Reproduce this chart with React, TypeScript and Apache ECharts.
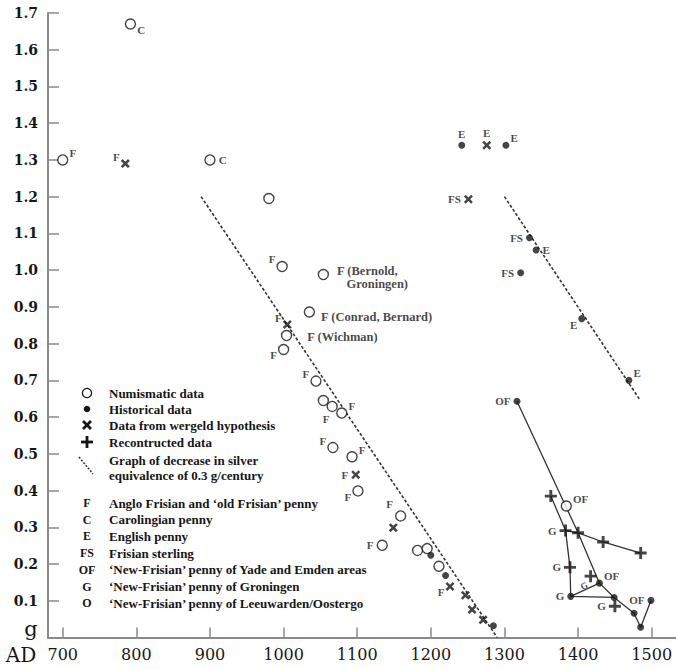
import React, { useEffect, useRef } from "react";
import * as echarts from "echarts";

// ---------- data ----------
const yearTicks = [700, 800, 900, 1000, 1100, 1200, 1300, 1400, 1500];

// [year AD, grams of silver, coin code label]
const numismatic: [number, number, string][] = [
  [700, 1.3, "F"],
  [792, 1.67, "C"],
  [900, 1.3, "C"],
  [980, 1.195, ""],
  [998, 1.01, "F"],
  [1054, 0.988, "F (Bernold,\n   Groningen)"],
  [1035, 0.886, "F (Conrad, Bernard)"],
  [1004, 0.822, "F (Wichman)"],
  [1000, 0.784, "F"],
  [1044, 0.698, "F"],
  [1054, 0.645, ""],
  [1066, 0.629, "F"],
  [1079, 0.611, "F"],
  [1067, 0.517, "F"],
  [1093, 0.492, "F"],
  [1101, 0.399, "F"],
  [1159, 0.331, "F"],
  [1134, 0.251, "F"],
  [1182, 0.237, ""],
  [1195, 0.242, ""],
  [1211, 0.194, ""],
  [1384, 0.358, "OF"],
];

const historical: [number, number, string][] = [
  [1242, 1.34, "E"],
  [1302, 1.34, "E"],
  [1334, 1.088, "FS"],
  [1343, 1.055, "E"],
  [1322, 0.993, "FS"],
  [1405, 0.868, "E"],
  [1469, 0.7, "E"],
  [1317, 0.643, "OF"],
  [1200, 0.224, ""],
  [1220, 0.169, ""],
  [1285, 0.032, ""],
  [1429, 0.148, "OF"],
  [1390, 0.112, "G"],
  [1449, 0.109, ""],
  [1499, 0.101, "OF"],
  [1476, 0.066, ""],
  [1485, 0.028, ""],
];

const wergeld: [number, number, string][] = [
  [785, 1.29, "F"],
  [1276, 1.34, "E"],
  [1251, 1.193, "FS"],
  [1005, 0.852, "F"],
  [1098, 0.443, "F"],
  [1149, 0.299, ""],
  [1226, 0.139, "F"],
  [1247, 0.115, ""],
  [1256, 0.076, ""],
  [1271, 0.048, ""],
];

const reconstructed: [number, number, string][] = [
  [1363, 0.385, ""],
  [1383, 0.291, "G"],
  [1400, 0.285, ""],
  [1434, 0.26, ""],
  [1485, 0.23, ""],
  [1389, 0.191, "G"],
  [1417, 0.167, "G"],
  [1450, 0.085, "G"],
];

// trend lines: decrease of 0.3 g per century
const trendEarly = [[888, 1.2], [1290, 0]];
const trendLate = [[1300, 1.2], [1483, 0.65]];

// connected series
const ofPath = [[1317, 0.643], [1400, 0.285], [1429, 0.148], [1449, 0.109], [1476, 0.066], [1485, 0.028], [1499, 0.101]];
const gPath = [[1363, 0.385], [1383, 0.291], [1389, 0.191], [1390, 0.112], [1449, 0.109]];
const gLink = [[1390, 0.112], [1429, 0.148]];
const reconPath = [[1383, 0.291], [1400, 0.285], [1434, 0.26], [1485, 0.23]];

// legend texts
const legendSeriesNames = ["Numismatic data", "Historical data", "Data from wergeld hypothesis", "Recontructed data"];
const trendNote = ["Graph of decrease in silver", "equivalence of 0.3 g/century"];
const coinCodes = ["F", "C", "E", "FS", "OF", "G", "O"];
const coinNames = [
  "Anglo Frisian and \u2018old Frisian\u2019 penny",
  "Carolingian penny",
  "English penny",
  "Frisian sterling",
  "\u2018New-Frisian\u2019 penny of Yade and Emden areas",
  "\u2018New-Frisian\u2019 penny of Groningen",
  "\u2018New-Frisian\u2019 penny of Leeuwarden/Oostergo",
];

// ---------- label placement (presentation only) ----------
const numismaticPlace = ["tr", "br", "r", "", "tl", "bern", "conrad", "wich", "bl", "tl", "", "b", "tr", "tl", "tr", "bl", "tl2", "l", "", "", "", "tr"];
const historicalPlace = ["t", "tr", "l", "r", "l", "bl", "tr", "l", "", "", "", "tr", "l", "", "l", "", ""];
const wergeldPlace = ["tl", "t", "l", "tl", "l", "", "bl", "", "", ""];
const reconstructedPlace = ["", "l", "", "", "", "l", "gsmall", "l"];

const INK = "#161616";
const AXIS = "#8a8a8a";
const SERIF = '"Liberation Serif", "DejaVu Serif", serif';
const AXISFONT = '"DejaVu Serif", serif';

function placement(code: string): any {
  switch (code) {
    case "r": return { position: "right", distance: 3 };
    case "l": return { position: "left", distance: 3 };
    case "t": return { position: "top", distance: 2 };
    case "b": return { position: "bottom", distance: 1, offset: [-6, 0] };
    case "tr": return { position: "right", distance: 1, offset: [0, -7] };
    case "tl": return { position: "left", distance: 1, offset: [0, -7] };
    case "tl2": return { position: "left", distance: 2, offset: [0, -12] };
    case "br": return { position: "right", distance: 1, offset: [0, 6] };
    case "bl": return { position: "left", distance: 1, offset: [0, 6] };
    case "bern": return { position: "right", distance: 8, offset: [0, 3], fontSize: 12.5, lineHeight: 13 };
    case "conrad": return { position: "right", distance: 6, offset: [0, 5], fontSize: 12.5 };
    case "wich": return { position: "right", distance: 15, offset: [0, 1], fontSize: 12.5 };
    case "gsmall": return { position: "left", distance: 1, offset: [0, 9], fontSize: 9, rotate: 25 };
    default: return {};
  }
}

function toData(points: [number, number, string][], places: string[]) {
  return points.map(([x, y, t], i) => ({
    value: [x, y],
    label: t
      ? {
          show: true,
          formatter: t,
          fontFamily: SERIF,
          fontWeight: "bold",
          fontSize: 11,
          color: INK,
          ...placement(places[i]),
        }
      : { show: false },
  }));
}

const xSymbol = "path://M2,0 L5,3 L8,0 L10,2 L7,5 L10,8 L8,10 L5,7 L2,10 L0,8 L3,5 L0,2 Z";
const plusSymbol = "path://M3.8,0 H6.2 V3.8 H10 V6.2 H6.2 V10 H3.8 V6.2 H0 V3.8 H3.8 Z";

function lineSeries(data: number[][], dashed: boolean): any {
  return {
    type: "line",
    data,
    symbol: "none",
    silent: true,
    z: 1,
    lineStyle: dashed
      ? { color: "#333", width: 1.6, type: [3, 2] }
      : { color: "#333", width: 1.3 },
  };
}

function buildLegend(): any[] {
  const els: any[] = [];
  const cx = 87;
  const textX = 109;
  const rowsY = [393, 409, 425, 442];
  const font = `bold 13px ${SERIF}`;
  els.push({ type: "circle", shape: { cx, cy: rowsY[0], r: 4.6 }, style: { fill: "#fff", stroke: INK, lineWidth: 1.3 } });
  els.push({ type: "circle", shape: { cx, cy: rowsY[1], r: 3.3 }, style: { fill: INK } });
  els.push({ type: "line", shape: { x1: cx - 4, y1: rowsY[2] - 4, x2: cx + 4, y2: rowsY[2] + 4 }, style: { stroke: INK, lineWidth: 2.6 } });
  els.push({ type: "line", shape: { x1: cx - 4, y1: rowsY[2] + 4, x2: cx + 4, y2: rowsY[2] - 4 }, style: { stroke: INK, lineWidth: 2.6 } });
  els.push({ type: "line", shape: { x1: cx - 6, y1: rowsY[3], x2: cx + 6, y2: rowsY[3] }, style: { stroke: INK, lineWidth: 2.8 } });
  els.push({ type: "line", shape: { x1: cx, y1: rowsY[3] - 6, x2: cx, y2: rowsY[3] + 6 }, style: { stroke: INK, lineWidth: 2.8 } });
  els.push({ type: "line", shape: { x1: 79, y1: 457, x2: 93, y2: 474 }, style: { stroke: "#333", lineWidth: 1.5, lineDash: [2, 1.5] } });
  legendSeriesNames.forEach((t, i) => {
    els.push({ type: "text", style: { text: t, x: textX, y: rowsY[i], font, fill: INK, textVerticalAlign: "middle", verticalAlign: "middle" } });
  });
  trendNote.forEach((t, i) => {
    els.push({ type: "text", style: { text: t, x: textX, y: 460 + i * 15.5, font, fill: INK, textVerticalAlign: "middle", verticalAlign: "middle" } });
  });
  coinCodes.forEach((c, i) => {
    const y = 503 + i * 16.7;
    els.push({ type: "text", style: { text: c, x: cx, y, font: `bold 12px ${SERIF}`, fill: INK, textAlign: "center", align: "center", textVerticalAlign: "middle", verticalAlign: "middle" } });
    els.push({ type: "text", style: { text: coinNames[i], x: textX, y, font, fill: INK, textVerticalAlign: "middle", verticalAlign: "middle" } });
  });
  // axis unit captions
  els.push({ type: "text", style: { text: "g", x: 31, y: 629, font: `21px ${AXISFONT}`, fill: INK, textAlign: "center", align: "center", textVerticalAlign: "middle", verticalAlign: "middle" } });
  els.push({ type: "text", style: { text: "AD", x: 21, y: 655, font: `20px ${AXISFONT}`, fill: INK, textAlign: "center", align: "center", textVerticalAlign: "middle", verticalAlign: "middle" } });
  return els;
}

export default function App() {
  const ref = useRef<HTMLDivElement>(null);

  useEffect(() => {
    if (!ref.current) return;
    const chart = echarts.init(ref.current, undefined, { renderer: "svg" });
    const option: any = {
      animation: false,
      backgroundColor: "#fff",
      grid: { left: 48, right: 0, top: 13, bottom: 31.5, containLabel: false, outerBoundsMode: "none" },
      xAxis: {
        type: "value",
        min: 680,
        max: 1533,
        axisLine: { show: true, onZero: false, lineStyle: { color: AXIS, width: 2 } },
        axisTick: { show: true, inside: true, length: 10, customValues: yearTicks, lineStyle: { color: AXIS, width: 1.5 } },
        axisLabel: {
          customValues: yearTicks,
          margin: 9,
          color: INK,
          fontFamily: AXISFONT,
          fontSize: 16,
          formatter: (v: number) => String(Math.round(v)),
        },
        splitLine: { show: false },
      },
      yAxis: {
        type: "value",
        min: 0,
        max: 1.7,
        interval: 0.1,
        axisLine: { show: true, onZero: false, lineStyle: { color: AXIS, width: 2 } },
        axisTick: { show: true, inside: true, length: 11, lineStyle: { color: AXIS, width: 1.5 } },
        axisLabel: {
          margin: 10,
          color: INK,
          fontFamily: AXISFONT,
          fontWeight: "bold",
          fontSize: 14,
          formatter: (v: number) => (v === 0 ? "" : v.toFixed(1)),
        },
        splitLine: { show: false },
      },
      series: [
        lineSeries(trendEarly, true),
        lineSeries(trendLate, true),
        lineSeries(ofPath, false),
        lineSeries(gPath, false),
        lineSeries(gLink, false),
        lineSeries(reconPath, false),
        {
          type: "scatter",
          name: "Numismatic data",
          z: 3,
          symbol: "circle",
          symbolSize: 10,
          itemStyle: { color: "#fff", borderColor: INK, borderWidth: 1.4 },
          emphasis: { disabled: true },
          data: toData(numismatic, numismaticPlace),
        },
        {
          type: "scatter",
          name: "Historical data",
          z: 4,
          symbol: "circle",
          symbolSize: 7,
          itemStyle: { color: INK },
          emphasis: { disabled: true },
          data: toData(historical, historicalPlace),
        },
        {
          type: "scatter",
          name: "Data from wergeld hypothesis",
          z: 4,
          symbol: xSymbol,
          symbolSize: 9,
          itemStyle: { color: INK },
          emphasis: { disabled: true },
          data: toData(wergeld, wergeldPlace),
        },
        {
          type: "scatter",
          name: "Recontructed data",
          z: 4,
          symbol: plusSymbol,
          symbolSize: 12,
          itemStyle: { color: INK },
          emphasis: { disabled: true },
          data: toData(reconstructed, reconstructedPlace),
        },
      ],
      graphic: { elements: buildLegend() },
    };
    chart.setOption(option);
    return () => chart.dispose();
  }, []);

  return (
    <div
      ref={ref}
      style={{ position: "fixed", left: 0, top: 0, width: 676, height: 669, background: "#fff" }}
    />
  );
}
